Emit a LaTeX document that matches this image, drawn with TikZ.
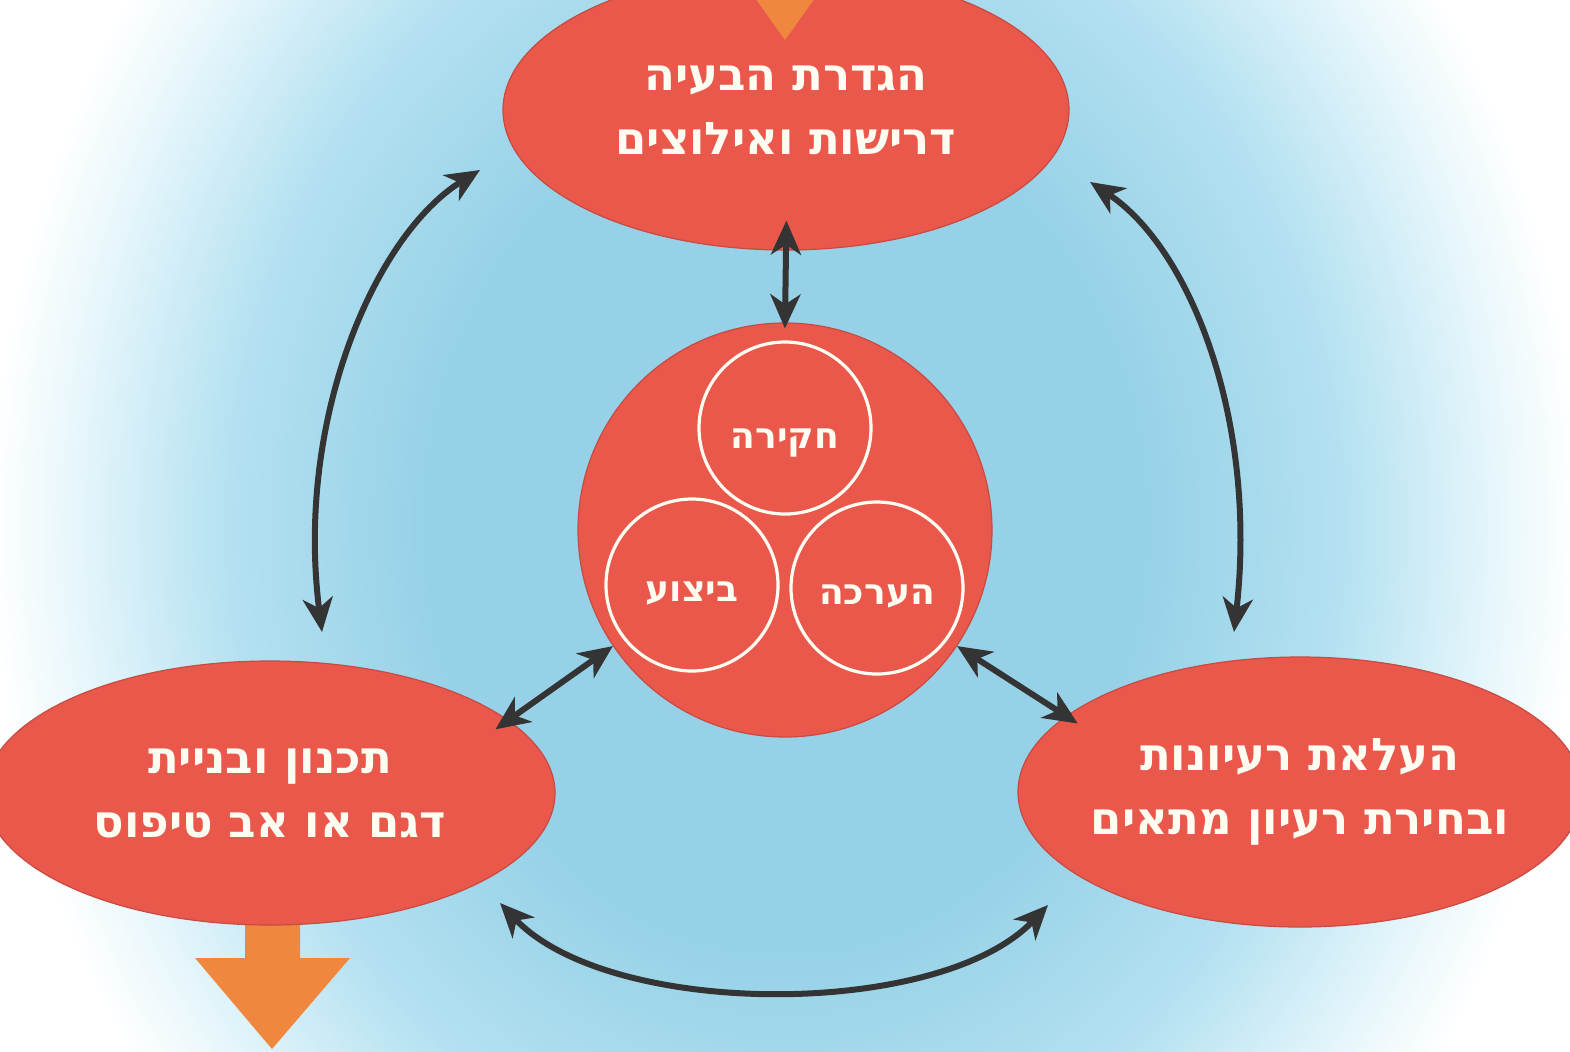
\documentclass[tikz,border=0pt]{standalone}
\usepackage{fontspec}
\newfontfamily\hebfont[Script=Hebrew]{DejaVu Sans}
\TeXXeTstate=1
\usetikzlibrary{arrows.meta,shapes.geometric,calc}
\definecolor{redf}{RGB}{234,88,76}
\definecolor{bgA}{RGB}{150,209,231}
\definecolor{bgB}{RGB}{180,225,241}
\definecolor{bgC}{RGB}{230,246,251}
\definecolor{orangef}{RGB}{240,135,62}
\definecolor{arrowc}{RGB}{52,52,52}
\definecolor{textc}{RGB}{255,252,242}
\pgfdeclareradialshading{bgshade}{\pgfpoint{0bp}{0bp}}{color(0bp)=(bgA); color(10.5bp)=(bgA); color(16.5bp)=(bgB); color(21bp)=(bgC); color(23.5bp)=(white); color(50bp)=(white)}
\newcommand{\RLtext}[1]{\makebox[0pt][c]{\beginR #1\endR}}
\begin{document}
\begin{tikzpicture}[x=0.5pt,y=-0.5pt,
  blob/.style={ellipse, fill=redf, draw=redf!85!black, line width=0.6pt, inner sep=0pt, text=textc, font=\hebfont\bfseries\fontsize{22.5}{32}\selectfont, align=center},
  hub/.style={circle, fill=redf, draw=redf!85!black, line width=0.6pt, minimum size=207pt, inner sep=0pt},
  sub/.style={circle, draw=textc, line width=1.6pt, minimum size=86pt, inner sep=0pt, text=textc, font=\hebfont\bfseries\fontsize{18}{20}\selectfont},
  link/.style={draw=arrowc, line width=3pt, {Stealth[length=17pt,width=15pt,inset=5pt]}-{Stealth[length=17pt,width=15pt,inset=5pt]}},
]
\useasboundingbox (0,0) rectangle (1570,1051);
\begin{scope}
\clip (0,0) rectangle (1570,1051);
\shade[shading=bgshade] (-60,-475) rectangle (1630,1525);
% bottom orange arrow (behind left ellipse)
\fill[orangef] (245,880) -- (300,880) -- (300,958) -- (350,958) -- (272,1049) -- (195,958) -- (245,958) -- cycle;
\node[blob, minimum width=283pt, minimum height=140pt] (top) at (786,110) {\RLtext{הגדרת הבעיה}\\\RLtext{דרישות ואילוצים}};
\node[blob, minimum width=285pt, minimum height=132pt] (left) at (270,793) {\RLtext{תכנון ובניית}\\\RLtext{דגם או אב טיפוס}};
\node[blob, minimum width=282pt, minimum height=135pt] (right) at (1300,792) {\RLtext{העלאת רעיונות}\\\RLtext{ובחירת רעיון מתאים}};
% top orange arrow tip
\fill[orangef] (755,-2) -- (815,-2) -- (785,40) -- cycle;
\node[hub] (hub) at (785,530) {};
\node[sub] (s1) at (785,428) {\raisebox{-10pt}[0pt][0pt]{\RLtext{חקירה}}};
\node[sub] (s2) at (692,585) {\raisebox{-8pt}[0pt][0pt]{\RLtext{ביצוע}}};
\node[sub] (s3) at (877,588) {\raisebox{-8pt}[0pt][0pt]{\RLtext{הערכה}}};
% connectors
\coordinate (l1) at (480,170);
\coordinate (l2) at (322,632);
\coordinate (r1) at (1090,182);
\coordinate (r2) at (1234,632);
\coordinate (b1) at (500,903);
\coordinate (b2) at (1048,905);
\draw[link, shorten <=-15pt, shorten >=-3pt] (top.south) -- (hub.north);
\draw[link, shorten >=-8pt] (hub.214) -- (left.17);
\draw[link, shorten >=-7pt] (hub.326) -- (right.162.5);
\draw[link] (l1) .. controls (375,235) and (295,420) .. (l2);
\draw[link] (r1) .. controls (1190,248) and (1258,420) .. (r2);
\draw[link] (b1) .. controls (610,1019) and (940,1019) .. (b2);
\end{scope}
\end{tikzpicture}
\end{document}
